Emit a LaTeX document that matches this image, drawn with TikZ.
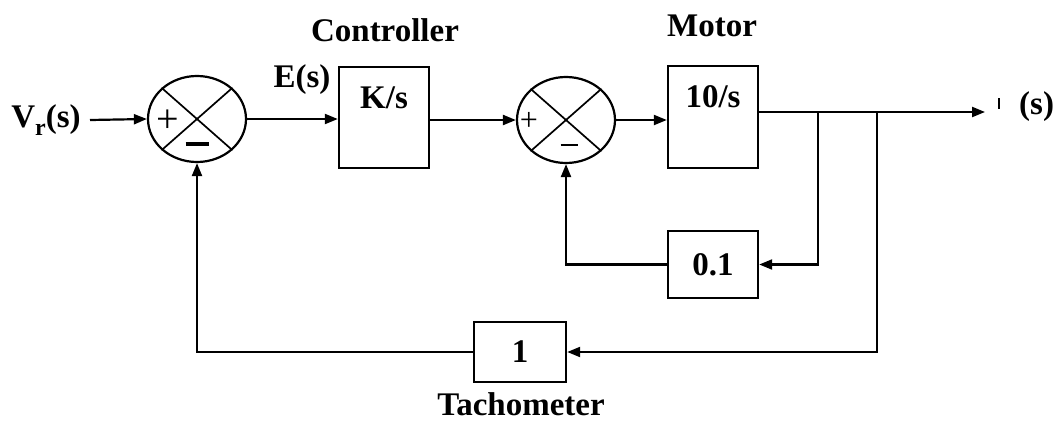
\documentclass[tikz,border=0pt]{standalone}
\usepackage{fontspec}
\setmainfont{Liberation Serif}
\usetikzlibrary{shapes.geometric,arrows.meta}
\tikzset{
  lbl/.style={font=\fontsize{33}{36}\selectfont\bfseries, inner sep=0pt},
  blk/.style={draw, line width=2.4pt, rectangle, inner sep=0pt},
  sumnode/.style={draw, line width=2.2pt, ellipse, minimum width=98pt, minimum height=86pt, inner sep=0pt},
  sig/.style={line width=2.2pt, -{Triangle[length=13pt,width=10pt]}},
  wire/.style={line width=2.2pt},
  signfont/.style={font=\fontsize{40}{44}\selectfont, inner sep=0pt}
}
\begin{document}
\begin{tikzpicture}[x=1pt,y=-1pt]
\useasboundingbox (0,0) rectangle (1060,431);
% summing junctions
\node[sumnode] (s1) at (197,119) {};
\node[sumnode] (s2) at (566,120) {};
\foreach \s in {s1,s2}{
  \draw[wire, line width=1.7pt] (\s.north east) -- (\s.south west);
  \draw[wire, line width=1.7pt] (\s.north west) -- (\s.south east);
}
\node[signfont] (p1) at (168,121) {+};
\node[signfont] (m1) at (197,149) {\rule[0.25em]{23pt}{3.5pt}};
\node[signfont, font=\fontsize{32}{36}\selectfont] (p2) at (529,121) {+};
\node[signfont] (m2) at (569,150) {\rule[0.25em]{17pt}{2.8pt}};
% blocks
\node[blk, minimum width=90pt, minimum height=101pt,
  label={[lbl, yshift=19.5pt]center:K/s}] (ctrl) at (384,117.5) {};
\node[blk, minimum width=90pt, minimum height=102pt,
  label={[lbl, yshift=20pt]center:10/s}] (motor) at (713,117) {};
\node[blk, minimum width=90pt, minimum height=67pt] (fb) at (713,264.5) {\fontsize{33}{36}\selectfont\bfseries 0.1};
\node[blk, minimum width=92pt, minimum height=60pt] (tach) at (520,352) {\fontsize{33}{36}\selectfont\bfseries 1};
% labels
\node[lbl] (vr) at (46,120) {V\raisebox{-0.25em}{\fontsize{24}{26}\selectfont r}(s)};
\node[lbl] (es) at (302,80) {E(s)};
\node[lbl] (ctl) at (385,30) {Controller};
\node[lbl] (mot) at (712,26) {Motor};
\node[lbl] (tac) at (521,404) {Tachometer};
\node[lbl] (outl) at (1026,107) {\rule[0.18em]{2.2pt}{11pt}\hspace{19pt}(s)};
% coordinates
\coordinate (in) at (90,120);
\coordinate (b1) at (818,112);
\coordinate (b2) at (877,112);
\coordinate (out) at (985,112);
% forward path
\draw[sig] (in) -- (s1.west);
\draw[sig] (s1.east) -- (ctrl.west |- s1.east);
\draw[sig] (ctrl.east |- s2.west) -- (s2.west);
\draw[sig] (s2.east) -- (motor.west |- s2.east);
\draw[sig] ([yshift=5pt]motor.east) -- (out);
% inner feedback
\draw[sig] (b1) -- (b1 |- fb.east) -- (fb.east);
\draw[sig] (fb.west) -- (s2.south |- fb.west) -- (s2.south);
% outer feedback
\draw[sig] (b2) -- (b2 |- tach.east) -- (tach.east);
\draw[sig] (tach.west) -- (s1.south |- tach.west) -- (s1.south);
\end{tikzpicture}
\end{document}
